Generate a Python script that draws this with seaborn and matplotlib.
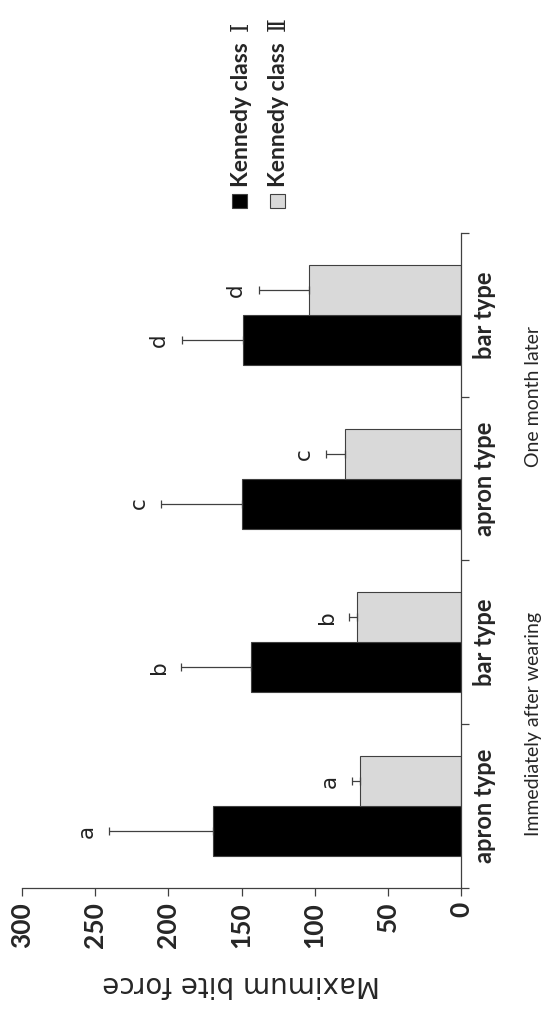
import numpy as np
import pandas as pd
import matplotlib
matplotlib.use('Agg')
import matplotlib.pyplot as plt
import matplotlib.transforms as mtransforms
from matplotlib.patches import Rectangle
import seaborn as sns

# data (order: bottom -> top in the rotated figure)
conds = ['Immediately after wearing', 'Immediately after wearing', 'One month later', 'One month later']
types = ['apron type', 'bar type', 'apron type', 'bar type']
groups = ['Immediately after wearing', 'One month later']
classes = ['Kennedy class Ⅰ', 'Kennedy class Ⅱ']

class1_mean = [169.5, 143.4, 149.8, 149.3]
class1_sd = [70.9, 47.9, 54.9, 41.6]
class2_mean = [69.0, 71.2, 79.5, 104.1]
class2_sd = [5.4, 5.1, 12.6, 34.2]
letters = ['a', 'b', 'c', 'd']

xticks = [0, 50, 100, 150, 200, 250, 300]
colors = ['#000000', '#d9d9d9']
edge = '#404040'

keys = [c + '|' + t for c, t in zip(conds, types)]
df = pd.DataFrame({
    'key': keys * 2,
    'cls': [classes[0]] * 4 + [classes[1]] * 4,
    'force': class1_mean + class2_mean,
    'sd': class1_sd + class2_sd,
    'letter': letters * 2,
})

sns.set_style('ticks')
plt.rcParams['font.family'] = ['Lato', 'Noto Sans CJK JP', 'DejaVu Sans']

fig = plt.figure(figsize=(5.52, 10.25), dpi=100)
ax = fig.add_axes([0.040, 0.1337, 0.795, 0.639])

sns.barplot(data=df, y='key', x='force', hue='cls', order=keys, hue_order=classes,
            palette=colors, orient='h', width=0.61, edgecolor=edge, linewidth=0.8,
            errorbar=None, legend=False, ax=ax)

# error bars (one sided) + significance letters
for p, (_, row) in zip(ax.patches, df.iterrows()):
    yc = p.get_y() + p.get_height() / 2
    xv = p.get_width()
    ax.errorbar(xv, yc, xerr=[[0], [row.sd]], fmt='none', ecolor=edge,
                elinewidth=0.9, capsize=3, capthick=0.9)
    ax.annotate(row.letter, (xv + row.sd, yc), xytext=(-9, 0), textcoords='offset points',
                rotation=90, ha='right', va='center', fontsize=15.5,
                family='DejaVu Sans', color='#222222')

ax.set_xlim(300, 0)
ax.set_ylim(-0.5, 3.5)

ax.set_xticks(xticks)
ax.set_xticklabels([str(v) for v in xticks], rotation=90, fontweight='bold', fontsize=19)
ax.tick_params(axis='x', direction='out', length=6, width=0.9, color=edge, pad=4)

ax.yaxis.tick_right()
ax.set_yticks(range(len(keys)))
ax.set_yticklabels(types, rotation=90, fontweight='bold', fontsize=17, va='center')
ax.set_yticks(np.arange(len(keys) + 1) - 0.5, minor=True)
ax.tick_params(axis='y', which='major', length=0, pad=9)
ax.tick_params(axis='y', which='minor', length=6, width=0.9, color=edge, direction='out')
ax.set_ylabel('')

for s in ['top', 'left']:
    ax.spines[s].set_visible(False)
for s in ['right', 'bottom']:
    ax.spines[s].set_color(edge)
    ax.spines[s].set_linewidth(0.9)

ax.set_xlabel('Maximum bite force', rotation=180, fontsize=20, family='DejaVu Sans', labelpad=16)

# group labels
trans = mtransforms.blended_transform_factory(ax.transAxes, ax.transData)
for g in groups:
    yc = np.mean([i for i, c in enumerate(conds) if c == g])
    ax.text(1.166, yc, g, transform=trans, rotation=90, ha='center', va='center', fontsize=14)

# legend (rotated, drawn by hand); roman numeral in a serif font
for i, (lab, col) in enumerate(zip(classes, colors)):
    sq_x = 0.4203 + i * 0.0688
    base_x = 0.4484 + i * 0.0679
    fig.add_artist(Rectangle((sq_x, 0.797), 0.0263, 0.01415, transform=fig.transFigure,
                             facecolor=col, edgecolor=edge, linewidth=0.8))
    name, num = lab.rsplit(' ', 1)
    t = fig.text(base_x, 0.8176, name, rotation=90, rotation_mode='anchor',
                 ha='left', va='baseline', fontsize=16.5, fontweight='bold')
    ax.annotate(num, xy=(base_x, 1.0), xycoords=('figure fraction', t),
                xytext=(0, 8), textcoords='offset points', rotation=90,
                rotation_mode='anchor', ha='left', va='baseline', fontsize=17,
                family='DejaVu Serif', annotation_clip=False)

fig.savefig('out.png', dpi=100, facecolor='white')
